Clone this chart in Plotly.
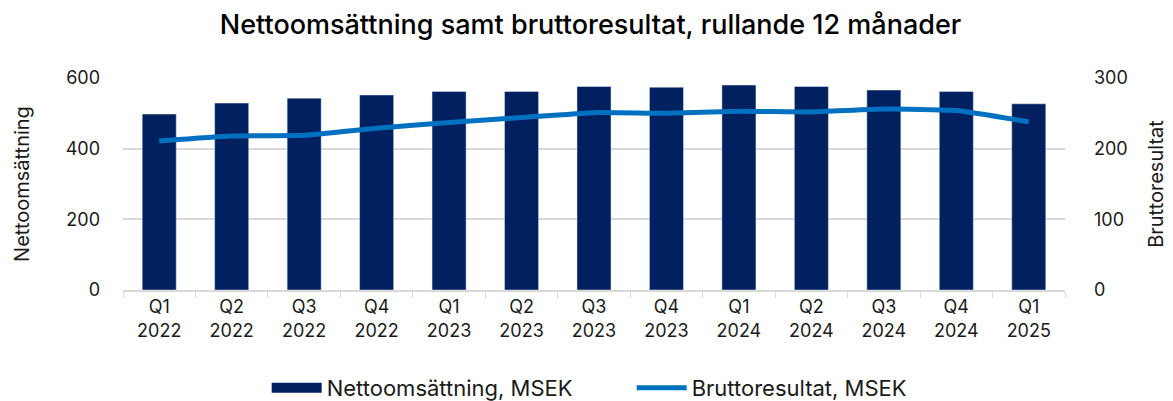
import plotly.graph_objects as go

FONT = "Inter, 'Noto Sans', sans-serif"
NAVY = "#002060"
BLUE = "#0070C0"
GRID = "#d9d9d9"
TEXT = "#1a1a1a"

# rolling 12 months, per quarter
quarters = ["Q1<br>2022", "Q2<br>2022", "Q3<br>2022", "Q4<br>2022",
            "Q1<br>2023", "Q2<br>2023", "Q3<br>2023", "Q4<br>2023",
            "Q1<br>2024", "Q2<br>2024", "Q3<br>2024", "Q4<br>2024",
            "Q1<br>2025"]
nettoomsattning = [498, 529, 543, 552, 562, 562, 576, 574, 580, 576, 566, 562, 527]
bruttoresultat  = [211, 218, 219, 229, 237, 244, 251, 250, 253, 252, 256, 254, 238]

fig = go.Figure()

fig.add_trace(go.Bar(
    x=quarters, y=nettoomsattning,
    name="Nettoomsättning, MSEK",
    marker=dict(color=NAVY),
    showlegend=False,
    yaxis="y",
))
# legend stand-in so the bar key is a wide block like the original
fig.add_trace(go.Scatter(
    x=[None], y=[None],
    name="Nettoomsättning, MSEK",
    mode="lines",
    line=dict(color=NAVY, width=14),
))
fig.add_trace(go.Scatter(
    x=quarters, y=bruttoresultat,
    name="Bruttoresultat, MSEK",
    mode="lines",
    line=dict(color=BLUE, width=5, shape="spline", smoothing=0.4),
    yaxis="y2",
))

# page body adds an 8px margin, so the figure is a bit smaller than the window
fig.update_layout(
    width=1165, height=393,
    margin=dict(l=115, r=108, t=70, b=111),
    paper_bgcolor="white",
    plot_bgcolor="white",
    font=dict(family=FONT, color=TEXT, size=18),
    bargap=0.53,
    title=dict(
        text="Nettoomsättning samt bruttoresultat, rullande 12 månader",
        font=dict(size=27, color="#000000", weight=500),
        x=0.5, xanchor="center",
        yref="container", y=0.957, yanchor="middle",
    ),
    xaxis=dict(
        showline=True, linecolor=GRID, linewidth=1.5,
        ticks="outside", tickcolor=GRID, ticklen=6,
        tickson="boundaries",
        tickfont=dict(size=18),
        showgrid=False,
        automargin=False,
    ),
    yaxis=dict(
        range=[0, 600], dtick=200,
        showgrid=True, gridcolor=GRID, gridwidth=1.5,
        zeroline=False,
        tickfont=dict(size=18),
        ticklabelstandoff=22,
        title=dict(text="Nettoomsättning", font=dict(size=20), standoff=30),
        automargin=False,
    ),
    yaxis2=dict(
        range=[0, 300], dtick=100,
        overlaying="y", side="right",
        showgrid=False, zeroline=False,
        tickfont=dict(size=18),
        ticklabelstandoff=28,
        title=dict(text="Bruttoresultat", font=dict(size=20), standoff=22),
        automargin=False,
    ),
    legend=dict(
        orientation="h",
        x=0.54, xanchor="center",
        yref="container",
        y=0.033, yanchor="middle",
        font=dict(size=22),
        itemwidth=50,
        entrywidth=300,
    ),
    showlegend=True,
)

fig.write_html("out.html")
